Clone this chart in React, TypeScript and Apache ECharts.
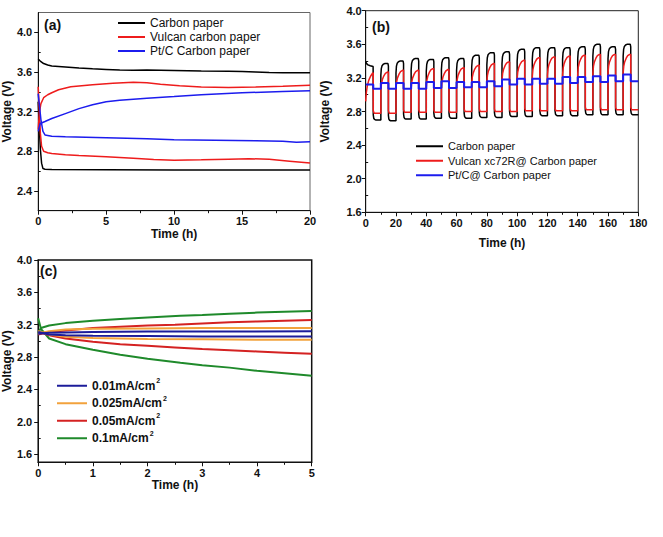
import React, { useEffect, useRef } from "react";
import * as echarts from "echarts";

const FONT = "'Liberation Sans', Arial, Helvetica, sans-serif";

// ---------- Panel (a) ----------
const aNames = ["Carbon paper", "Vulcan carbon paper", "Pt/C Carbon paper"];
const aColors = ["#000000", "#ee1c1c", "#1c1cee"];
const aXTicks = [0, 5, 10, 15, 20];
const aYTicks = [2.4, 2.8, 3.2, 3.6, 4.0];
const aYMinor = [2.6, 3.0, 3.4, 3.8];
const aBlackUpper = [[0, 3.73], [0.15, 3.71], [0.4, 3.685], [0.7, 3.67], [1, 3.66], [2, 3.65], [3, 3.64], [4, 3.632], [5, 3.626], [6, 3.62], [7, 3.617], [8, 3.62], [9, 3.618], [10, 3.615], [12, 3.61], [14, 3.608], [15, 3.605], [16, 3.6], [17, 3.595], [18, 3.592], [20, 3.593]];
const aBlackLower = [[0, 3.3], [0.08, 3.05], [0.16, 2.82], [0.25, 2.68], [0.35, 2.625], [0.5, 2.618], [1, 2.615], [5, 2.612], [10, 2.61], [15, 2.61], [20, 2.61]];
const aRedUpper = [[0, 3.02], [0.05, 3.12], [0.1, 3.2], [0.2, 3.28], [0.4, 3.34], [0.7, 3.37], [1, 3.39], [1.5, 3.42], [2.4, 3.45], [4, 3.47], [5.5, 3.485], [7, 3.495], [8, 3.49], [9, 3.475], [10.4, 3.46], [12, 3.448], [14, 3.443], [16, 3.447], [18, 3.455], [20, 3.467]];
const aRedLower = [[0, 3.45], [0.08, 3.22], [0.16, 2.98], [0.25, 2.85], [0.4, 2.8], [0.7, 2.785], [1, 2.778], [2, 2.765], [3, 2.757], [5, 2.745], [7, 2.73], [8.5, 2.716], [10, 2.71], [12, 2.714], [14, 2.72], [15.5, 2.725], [17, 2.718], [18.5, 2.7], [20, 2.682]];
const aBlueUpper = [[0, 3.0], [0.15, 3.08], [0.5, 3.1], [1, 3.13], [2, 3.18], [3, 3.23], [4, 3.27], [5, 3.3], [6, 3.315], [7, 3.325], [8, 3.335], [10, 3.352], [12, 3.37], [15, 3.39], [18, 3.402], [20, 3.41]];
const aBlueLower = [[0, 3.38], [0.1, 3.25], [0.2, 3.12], [0.35, 3.0], [0.5, 2.965], [1, 2.952], [2, 2.945], [5, 2.935], [8, 2.925], [10, 2.915], [13, 2.91], [16, 2.905], [18, 2.9], [19, 2.89], [20, 2.895]];

// ---------- Panel (b) ----------
const bNames = ["Carbon paper", "Vulcan xc72R@ Carbon paper", "Pt/C@ Carbon paper"];
const bColors = ["#000000", "#ee1c1c", "#1c1cee"];
const bCycleStart = [0, 10, 20, 30, 40, 50, 60, 70, 80, 90, 100, 110, 120, 130, 140, 150, 160, 170];
const bBlackPeak = [3.34, 3.37, 3.4, 3.43, 3.42, 3.44, 3.43, 3.47, 3.5, 3.51, 3.54, 3.56, 3.56, 3.56, 3.57, 3.6, 3.57, 3.6];
const bBlackLow = [2.7, 2.69, 2.71, 2.71, 2.72, 2.72, 2.72, 2.73, 2.73, 2.74, 2.74, 2.75, 2.75, 2.75, 2.76, 2.76, 2.76, 2.76];
const bBlackFirst = [[0, 3.39], [0.6, 3.37], [1.5, 3.355], [3, 3.345], [4.9, 3.335]];
const bRedPeak = [3.26, 3.27, 3.29, 3.29, 3.31, 3.3, 3.32, 3.35, 3.37, 3.39, 3.41, 3.44, 3.45, 3.46, 3.47, 3.48, 3.48, 3.48];
const bRedLow = [2.78, 2.78, 2.79, 2.79, 2.79, 2.79, 2.8, 2.8, 2.8, 2.8, 2.81, 2.81, 2.81, 2.81, 2.82, 2.82, 2.82, 2.82];
const bRedFirst = [[0, 2.92], [0.4, 3.02], [1, 3.1], [2, 3.17], [3.2, 3.22], [4.5, 3.255], [5, 3.26]];
const bBlueHigh = [3.12, 3.14, 3.14, 3.14, 3.15, 3.16, 3.15, 3.15, 3.16, 3.18, 3.19, 3.19, 3.19, 3.21, 3.21, 3.22, 3.23, 3.24];
const bBlueLow = [3.07, 3.07, 3.07, 3.07, 3.08, 3.08, 3.09, 3.09, 3.1, 3.12, 3.12, 3.13, 3.13, 3.14, 3.15, 3.15, 3.16, 3.16];
const bEnd = 180;
// within-cycle shape (time offset, offset from peak / low)
const bBlackRise = [[0, -0.14], [0.3, -0.06], [0.8, -0.025], [1.6, -0.008], [2.5, 0], [4.7, 0], [5, -0.03]];
const bBlackDrop = [[5, 0.06], [5.3, 0.02], [5.8, 0.006], [6.5, 0]];
const bRedRise = [[0, -0.22], [0.4, -0.14], [1, -0.09], [2, -0.045], [3, -0.015], [4.3, 0], [5, 0]];
const bRedDrop = [[5, 0.03], [5.6, 0]];
const bBlueRise = [[0, 0], [5, 0]];
const bBlueDrop = [[5, 0]];

// ---------- Panel (c) ----------
const cNames = ["0.01mA/cm²", "0.025mA/cm²", "0.05mA/cm²", "0.1mA/cm²"];
const cColors = ["#1c1c9a", "#f2a23c", "#d42222", "#1f8a2b"];
const cYTicks = [1.6, 2.0, 2.4, 2.8, 3.2, 3.6, 4.0];
const cYMinor = [1.8, 2.2, 2.6, 3.0, 3.4, 3.8];
const cGreenUpper = [[0, 3.1], [0.05, 3.16], [0.2, 3.19], [0.5, 3.22], [1, 3.25], [1.5, 3.27], [2, 3.29], [2.6, 3.31], [3, 3.32], [3.5, 3.335], [4, 3.35], [4.5, 3.36], [5, 3.37]];
const cGreenLower = [[0, 3.28], [0.05, 3.15], [0.2, 3.03], [0.5, 2.96], [1, 2.89], [1.5, 2.83], [2, 2.78], [2.6, 2.73], [3, 2.7], [3.5, 2.67], [4, 2.63], [4.5, 2.6], [5, 2.57]];
const cRedUpper = [[0, 3.08], [0.2, 3.11], [0.5, 3.13], [1, 3.16], [1.5, 3.175], [2, 3.19], [2.5, 3.2], [3, 3.215], [3.5, 3.23], [4, 3.24], [4.5, 3.25], [5, 3.26]];
const cRedLower = [[0, 3.12], [0.2, 3.07], [0.5, 3.03], [1, 2.99], [1.5, 2.96], [2, 2.94], [2.5, 2.92], [3, 2.9], [3.5, 2.885], [4, 2.87], [4.5, 2.855], [5, 2.84]];
const cOrangeUpper = [[0, 3.09], [0.2, 3.12], [0.5, 3.14], [1, 3.15], [2, 3.155], [3, 3.16], [4, 3.16], [5, 3.16]];
const cOrangeLower = [[0, 3.12], [0.2, 3.08], [0.5, 3.05], [1, 3.035], [2, 3.025], [3, 3.02], [4, 3.015], [5, 3.015]];
const cBlueUpper = [[0, 3.09], [0.2, 3.1], [0.5, 3.105], [1, 3.11], [2, 3.115], [3, 3.115], [5, 3.12]];
const cBlueLower = [[0, 3.11], [0.2, 3.08], [0.5, 3.07], [1, 3.065], [2, 3.06], [3, 3.055], [5, 3.055]];

function buildCycled(first: number[][], peaks: number[], lows: number[], rise: number[][], drop: number[][]) {
  const pts: number[][] = first.map((p) => [p[0], p[1]]);
  for (let k = 0; k < bCycleStart.length; k++) {
    const t = bCycleStart[k];
    if (k > 0) {
      pts.push([t, lows[k - 1]]);
      for (const [dt, dv] of rise) pts.push([t + dt, peaks[k] + dv]);
    }
    for (const [dt, dv] of drop) pts.push([t + dt, lows[k] + dv]);
  }
  pts.push([bEnd, lows[lows.length - 1]]);
  return pts;
}

const AX = "#111";
const tickLabel = { fontWeight: "bold", fontSize: 11, color: AX, fontFamily: FONT };
const nameStyle = { fontWeight: "bold", fontSize: 12, color: AX, fontFamily: FONT };

function xAxis(grid: number, min: number, max: number, interval: number, nameGap: number, margin: number) {
  return {
    type: "value", gridIndex: grid, min, max, interval,
    name: "Time (h)", nameLocation: "middle", nameGap, nameTextStyle: nameStyle,
    axisLine: { show: true, onZero: false, lineStyle: { color: AX, width: 1 } },
    axisTick: { show: true, length: 4, lineStyle: { color: AX } },
    minorTick: { show: true, splitNumber: 2, length: 2.5, lineStyle: { color: AX } },
    axisLabel: { ...tickLabel, margin },
    splitLine: { show: false }, minorSplitLine: { show: false },
  };
}

function yAxisCustom(grid: number, min: number, max: number, ticks: number[], nameGap: number, margin: number) {
  return {
    type: "value", gridIndex: grid, min, max,
    name: "Voltage (V)", nameLocation: "middle", nameGap, nameTextStyle: nameStyle,
    axisLine: { show: true, onZero: false, lineStyle: { color: AX, width: 1 } },
    axisTick: { show: true, length: 4, lineStyle: { color: AX }, customValues: ticks },
    axisLabel: { ...tickLabel, margin, customValues: ticks, formatter: (v: number) => v.toFixed(1) },
    splitLine: { show: false },
  };
}

function yAxisMinor(grid: number, min: number, max: number, ticks: number[]) {
  return {
    type: "value", gridIndex: grid, min, max,
    axisLine: { show: false },
    axisTick: { show: true, length: 2.5, lineStyle: { color: AX }, customValues: ticks },
    axisLabel: { show: false },
    splitLine: { show: false },
  };
}

function line(name: string, color: string, data: number[][], xi: number, yi: number, width: number) {
  return {
    type: "line", name, data, xAxisIndex: xi, yAxisIndex: yi,
    showSymbol: false, symbol: "none", color,
    itemStyle: { color },
    lineStyle: { color, width },
    z: 3,
  };
}

export default function App() {
  const ref = useRef<HTMLDivElement>(null);
  useEffect(() => {
    if (!ref.current) return;
    const chart = echarts.init(ref.current, undefined, { renderer: "svg" });

    const bBlack = buildCycled(bBlackFirst, bBlackPeak, bBlackLow, bBlackRise, bBlackDrop);
    const bRed = buildCycled(bRedFirst, bRedPeak, bRedLow, bRedRise, bRedDrop);
    const bBlue = buildCycled([[0, bBlueHigh[0]], [5, bBlueHigh[0]]], bBlueHigh, bBlueLow, bBlueRise, bBlueDrop);

    const option: any = {
      animation: false,
      backgroundColor: "#ffffff",
      grid: [
        { left: 37.3, top: 12.5, width: 272.7, height: 198.2, show: true, borderColor: "#666", borderWidth: 1, backgroundColor: "transparent" },
        { left: 365.7, top: 10.7, width: 272.6, height: 201.6, show: true, borderColor: "#222", borderWidth: 1, backgroundColor: "transparent" },
        { left: 37.5, top: 260, width: 274.2, height: 202.3, show: true, borderColor: "#111", borderWidth: 1.5, backgroundColor: "transparent" },
      ],
      xAxis: [
        xAxis(0, aXTicks[0], aXTicks[aXTicks.length - 1], 5, 17, 5),
        xAxis(1, 0, 180, 20, 25, 5),
        xAxis(2, 0, 5, 1, 14, 5),
      ],
      yAxis: [
        yAxisCustom(0, 2.2, 4.2, aYTicks, 22, 6),
        { ...yAxisCustom(1, 1.6, 4.0, [1.6, 2.0, 2.4, 2.8, 3.2, 3.6, 4.0], 35, 4) },
        yAxisCustom(2, 1.5, 4.0, cYTicks, 23, 6),
        yAxisMinor(0, 2.2, 4.2, aYMinor),
        yAxisMinor(1, 1.6, 4.0, [1.8, 2.2, 2.6, 3.0, 3.4, 3.8]),
        yAxisMinor(2, 1.5, 4.0, cYMinor),
      ],
      legend: [
        {
          data: aNames, orient: "vertical", left: 113, top: 11, itemWidth: 27, itemHeight: 2, itemGap: 0,
          icon: "rect", selectedMode: false,
          textStyle: { fontSize: 12, color: "#111", fontFamily: FONT, lineHeight: 14 },
        },
        {
          data: bNames, orient: "vertical", left: 411, top: 134, itemWidth: 27, itemHeight: 2, itemGap: 0,
          icon: "rect", selectedMode: false,
          textStyle: { fontSize: 11, color: "#111", fontFamily: FONT, lineHeight: 14.5 },
        },
        {
          data: cNames, orient: "vertical", left: 52, top: 372, itemWidth: 30, itemHeight: 2, itemGap: 0,
          icon: "rect", selectedMode: false,
          formatter: (n: string) => `{a|${n.replace("²", "")}}{s|2}`,
          textStyle: {
            fontSize: 12, fontWeight: "bold", color: "#111", fontFamily: FONT, lineHeight: 17.5,
            rich: {
              a: { fontSize: 12, fontWeight: "bold", color: "#111", fontFamily: FONT, lineHeight: 17.5 },
              s: { fontSize: 7, fontWeight: "bold", color: "#111", fontFamily: FONT, verticalAlign: "top", padding: [0, 0, 6, 1] },
            },
          },
        },
      ],
      graphic: [
        { type: "text", left: 44, top: 18, style: { text: "(a)", fontSize: 14, fontWeight: "bold", fill: "#111", fontFamily: FONT } },
        { type: "text", left: 372, top: 20, style: { text: "(b)", fontSize: 14, fontWeight: "bold", fill: "#111", fontFamily: FONT } },
        { type: "text", left: 40, top: 264, style: { text: "(c)", fontSize: 14, fontWeight: "bold", fill: "#111", fontFamily: FONT } },
      ],
      series: [
        line(aNames[0], aColors[0], aBlackUpper, 0, 0, 1.5),
        line(aNames[0], aColors[0], aBlackLower, 0, 0, 1.5),
        line(aNames[1], aColors[1], aRedUpper, 0, 0, 1.5),
        line(aNames[1], aColors[1], aRedLower, 0, 0, 1.5),
        line(aNames[2], aColors[2], aBlueUpper, 0, 0, 1.5),
        line(aNames[2], aColors[2], aBlueLower, 0, 0, 1.5),

        line(bNames[0], bColors[0], bBlack, 1, 1, 1.5),
        line(bNames[1], bColors[1], bRed, 1, 1, 1.5),
        line(bNames[2], bColors[2], bBlue, 1, 1, 2),

        line(cNames[3], cColors[3], cGreenUpper, 2, 2, 2),
        line(cNames[3], cColors[3], cGreenLower, 2, 2, 2),
        line(cNames[2], cColors[2], cRedUpper, 2, 2, 2),
        line(cNames[2], cColors[2], cRedLower, 2, 2, 2),
        line(cNames[1], cColors[1], cOrangeUpper, 2, 2, 2),
        line(cNames[1], cColors[1], cOrangeLower, 2, 2, 2),
        line(cNames[0], cColors[0], cBlueUpper, 2, 2, 2),
        line(cNames[0], cColors[0], cBlueLower, 2, 2, 2),
      ],
    };
    chart.setOption(option);
    return () => chart.dispose();
  }, []);
  return (
    <div
      ref={ref}
      style={{ position: "absolute", left: 0, top: 0, width: 663, height: 537, background: "#fff" }}
    />
  );
}
